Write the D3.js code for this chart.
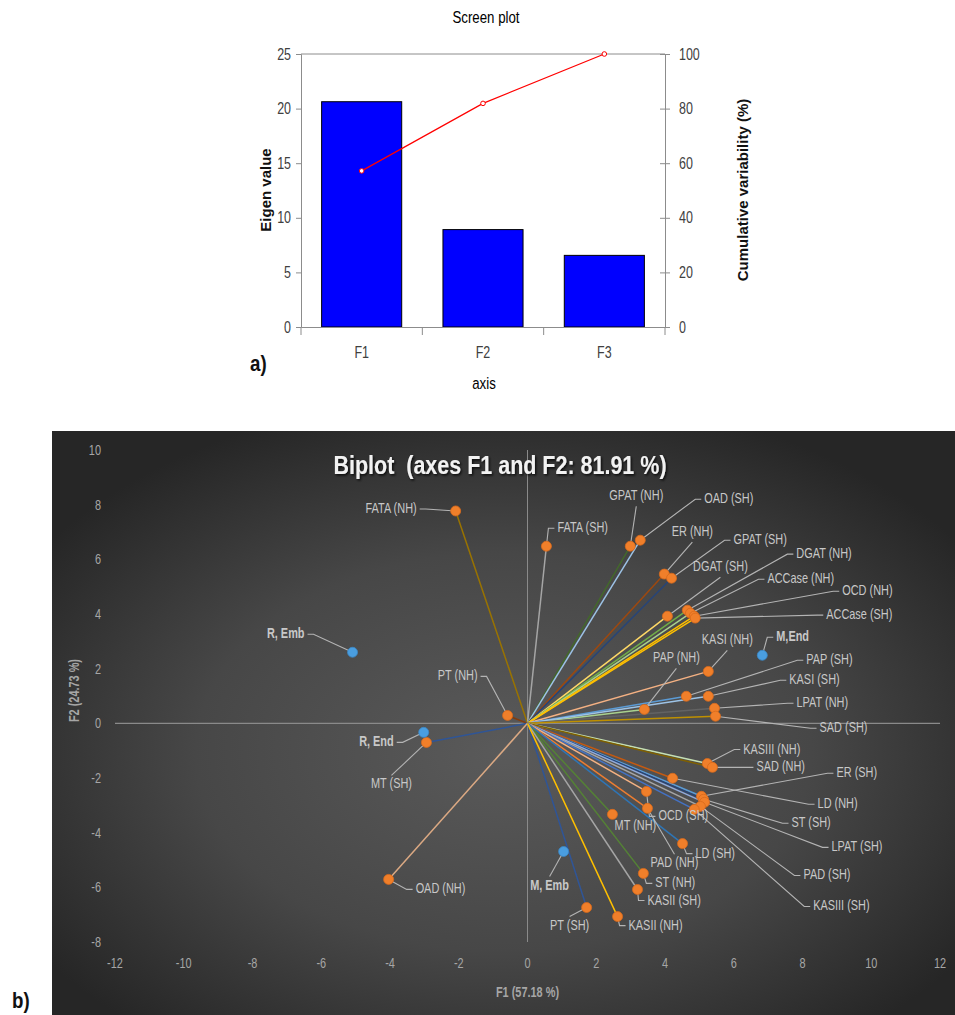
<!DOCTYPE html>
<meta charset="utf-8">
<style>
 body { margin: 0; background: #fff; }
 svg { display: block; }
 text { font-family: "Liberation Sans", Arial, sans-serif; }
</style>
<body>
<svg width="955" height="1015"></svg>
<script src="https://d3js.org/d3.v7.min.js"></script>
<script>

 // ---- scree plot data ----
 var factors = ["F1", "F2", "F3"];
 var eigenValues = [20.63, 8.92, 6.56];
 var cumulative = [57.18, 81.91, 100];
 var eigenTicks = [0, 5, 10, 15, 20, 25];
 var cumTicks = [0, 20, 40, 60, 80, 100];

 // ---- biplot data ----
 var varNames = ["FATA (NH)", "FATA (SH)", "GPAT (NH)", "OAD (SH)", "ER (NH)", "GPAT (SH)",
                 "DGAT (SH)", "DGAT (NH)", "ACCase (NH)", "OCD (NH)", "ACCase (SH)",
                 "KASI (NH)", "PAP (NH)", "PAP (SH)", "KASI (SH)", "LPAT (NH)", "SAD (SH)",
                 "PT (NH)", "MT (SH)", "OAD (NH)", "KASIII (NH)", "SAD (NH)", "ER (SH)",
                 "LD (NH)", "ST (SH)", "LPAT (SH)", "PAD (SH)", "KASIII (SH)", "OCD (SH)",
                 "MT (NH)", "PAD (NH)", "LD (SH)", "ST (NH)", "KASII (SH)", "PT (SH)", "KASII (NH)"];
 var varF1 = [-2.09, 0.55, 2.99, 3.28, 3.98, 4.19, 4.07, 4.65, 4.74, 4.85, 4.88,
              5.26, 3.40, 4.62, 5.26, 5.44, 5.47, -0.58, -2.94, -4.04, 5.23, 5.38, 5.06,
              4.22, 5.12, 5.15, 5.03, 4.85, 3.46, 2.47, 3.49, 4.51, 3.37, 3.20, 1.72, 2.62];
 var varF2 = [7.77, 6.48, 6.48, 6.70, 5.46, 5.31, 3.92, 4.14, 4.03, 3.92, 3.85,
              1.90, 0.51, 0.99, 0.99, 0.55, 0.26, 0.29, -0.70, -5.71, -1.47, -1.61, -2.67,
              -2.01, -2.78, -2.89, -3.04, -3.15, -2.49, -3.33, -3.11, -4.40, -5.49, -6.08, -6.74, -7.07];

 var obsNames = ["R, Emb", "M,End", "R, End", "M, Emb"];
 var obsF1 = [-5.09, 6.83, -3.02, 1.05];
 var obsF2 = [2.60, 2.49, -0.33, -4.69];

 var xTicks = [-12, -10, -8, -6, -4, -2, 0, 2, 4, 6, 8, 10, 12];
 var yTicks = [-8, -6, -4, -2, 0, 2, 4, 6, 8, 10];

 // line colour for each variable vector
 var lineColors = ["#997300", "#a5a5a5", "#43682b", "#9dc3e6", "#9e480e", "#264478",
                   "#ffd966", "#70ad47", "#a9d18e", "#ffc000", "#ffc000",
                   "#f4b183", "#a9d18e", "#5b9bd5", "#9dc3e6", "#636363", "#bf9000",
                   "#843c0c", "#2f5597", "#dba983", "#c5e0b4", "#7f6000", "#5b9bd5",
                   "#c55a11", "#264478", "#8faadc", "#a5a5a5", "#4472c4", "#f4b183",
                   "#548235", "#ed7d31", "#2e75b6", "#548235", "#a5a5a5", "#2f5597", "#ffc000"];

 // label placement: offset of the text from its point in px, text-anchor
 var varLabelPos = [[-39, 2, "end"], [11, -14, "start"], [6, -46, "middle"], [64, -37, "start"],
                    [28, -38, "middle"], [62, -34, "start"], [53, -45, "middle"], [109, -52, "start"],
                    [77, -30, "start"], [148, -21, "start"], [131, 1, "start"],
                    [19, -27, "middle"], [32, -47, "middle"], [120, -32, "start"], [81, -12, "start"],
                    [82, -1, "start"], [104, 16, "start"], [-30, -35, "end"], [-35, 46, "middle"],
                    [27, 14, "start"], [36, -10, "start"], [44, 4, "start"], [135, -19, "start"],
                    [145, 30, "start"], [88, 28, "start"], [127, 49, "start"], [103, 73, "start"],
                    [119, 101, "start"], [12, 29, "start"], [23, 16, "none"], [27, 59, "middle"],
                    [13, 14, "start"], [12, 14, "start"], [10, 15, "start"], [-17, 22, "middle"],
                    [11, 13, "start"]];
 var obsLabelPos = [[-48, -14, "end"], [14, -14, "start"], [-30, 14, "end"], [-14, 38, "middle"]];

 var svg = d3.select("svg");
 var squeeze = 0.78; // horizontal squeeze to mimic the narrow chart font

 // text drawn at (x,y), squeezed horizontally around its anchor point
 function ntext(g, x, y, str, size, anchor, k) {
     return g.append("text")
        .attr("transform", "translate(" + x + "," + y + ") scale(" + (k || squeeze) + ",1)")
        .attr("text-anchor", anchor || "start")
        .attr("font-size", size)
        .text(str);
 }

 // ================= a) scree plot =================
 var sx = d3.scaleBand().domain(factors).range([301, 665]).paddingInner(0.34).paddingOuter(0.17);
 var sy = d3.scaleLinear().domain([0, 25]).range([327, 54]);
 var sy2 = d3.scaleLinear().domain([0, 100]).range([327, 54]);
 var axisCol = "#8c8c8c";

 var scree = svg.append("g");
 scree.append("line").attr("x1", 301).attr("x2", 665).attr("y1", sy(25)).attr("y2", sy(25)).attr("stroke", axisCol);

 scree.selectAll("rect.bar").data(eigenValues).enter().append("rect")
    .attr("class", "bar")
    .attr("x", function(d, i) { return sx(factors[i]); })
    .attr("width", sx.bandwidth())
    .attr("y", function(d) { return sy(d); })
    .attr("height", function(d) { return sy(0) - sy(d); })
    .attr("fill", "#0000ff").attr("stroke", "#000").attr("stroke-width", 1);

 var leftAx = scree.append("g").attr("transform", "translate(301,0)")
    .call(d3.axisLeft(sy).tickValues(eigenTicks).tickSize(5).tickPadding(5));
 var rightAx = scree.append("g").attr("transform", "translate(665,0)")
    .call(d3.axisRight(sy2).tickValues(cumTicks).tickSize(5).tickPadding(9));
 rightAx.selectAll(".tick line").attr("x1", -5);
 var bottomAx = scree.append("g").attr("transform", "translate(0,327)")
    .call(d3.axisBottom(sx).tickSize(0).tickPadding(20));
 [leftAx, rightAx, bottomAx].forEach(function(a) {
     a.selectAll("path, line").attr("stroke", axisCol);
     a.selectAll("text").attr("font-size", 16).attr("fill", "#404040")
      .attr("font-family", "Liberation Sans")
      .each(function() {
          var t = d3.select(this);
          t.attr("transform", (t.attr("transform") || "") + " scale(" + squeeze + ",1)")
           .attr("x", +t.attr("x") / squeeze);
      });
 });
 // category boundary ticks
 var edges = [sx.range()[0]].concat(factors.map(function(f) { return sx(f) + sx.bandwidth() + sx.step() * 0.17; }));
 scree.selectAll("line.edge").data(edges).enter().append("line")
    .attr("x1", function(d) { return d; }).attr("x2", function(d) { return d; })
    .attr("y1", 327).attr("y2", 335).attr("stroke", axisCol);

 var line = d3.line()
    .x(function(d, i) { return sx(factors[i]) + sx.bandwidth() / 2; })
    .y(function(d) { return sy2(d); });
 scree.append("path").datum(cumulative).attr("d", line)
    .attr("fill", "none").attr("stroke", "#ff0000").attr("stroke-width", 1.2);
 scree.selectAll("circle.cum").data(cumulative).enter().append("circle")
    .attr("cx", function(d, i) { return sx(factors[i]) + sx.bandwidth() / 2; })
    .attr("cy", function(d) { return sy2(d); })
    .attr("r", 2.3).attr("fill", "#fff").attr("stroke", "#ff0000");

 ntext(scree, 486, 23, "Screen plot", 17, "middle").attr("fill", "#000");
 scree.append("text").attr("transform", "translate(271,190) rotate(-90)")
    .attr("text-anchor", "middle").attr("font-family", "DejaVu Sans").attr("font-weight", "bold")
    .attr("font-size", 15).attr("fill", "#111").text("Eigen value");
 scree.append("text").attr("transform", "translate(748,190) rotate(-90)")
    .attr("text-anchor", "middle").attr("font-family", "DejaVu Sans").attr("font-weight", "bold")
    .attr("font-size", 15).attr("fill", "#111").text("Cumulative variability (%)");
 ntext(scree, 484, 389, "axis", 17, "middle").attr("fill", "#000");
 ntext(scree, 250, 371, "a)", 22, "start", 0.85).attr("font-weight", "bold").attr("fill", "#111");

 // ================= b) biplot =================
 var defs = svg.append("defs");
 var grad = defs.append("radialGradient").attr("id", "bg")
    .attr("cx", "0.5").attr("cy", "0.55").attr("r", "0.62");
 grad.append("stop").attr("offset", "0").attr("stop-color", "#5a5a5a");
 grad.append("stop").attr("offset", "0.55").attr("stop-color", "#474747");
 grad.append("stop").attr("offset", "1").attr("stop-color", "#262626");
 var sh = defs.append("filter").attr("id", "shadow").attr("x", "-10%").attr("y", "-30%").attr("width", "120%").attr("height", "160%");
 sh.append("feDropShadow").attr("dx", 1.5).attr("dy", 1.5).attr("stdDeviation", 1.2).attr("flood-color", "#000").attr("flood-opacity", 0.8);

 svg.append("rect").attr("x", 52).attr("y", 431).attr("width", 903).attr("height", 584).attr("fill", "url(#bg)");
 ntext(svg, 12, 1008, "b)", 22, "start", 0.85).attr("font-weight", "bold").attr("fill", "#111");

 var bx = d3.scaleLinear().domain([-12, 12]).range([115, 940]);
 var by = d3.scaleLinear().domain([-8, 10]).range([942, 450]);
 var bp = svg.append("g");
 var lineCol = "#8a8a8a";

 bp.append("line").attr("x1", bx(-12)).attr("x2", bx(12)).attr("y1", by(0)).attr("y2", by(0))
   .attr("stroke", lineCol).attr("stroke-width", 1.2);
 bp.append("line").attr("x1", bx(0)).attr("x2", bx(0)).attr("y1", by(10)).attr("y2", by(-8))
   .attr("stroke", lineCol).attr("stroke-width", 1);

 xTicks.forEach(function(d) {
     ntext(bp, bx(d), 968, d, 14, "middle").attr("fill", "#a6a6a6");
 });
 yTicks.forEach(function(d) {
     ntext(bp, 101, by(d) + 5, d, 14, "end").attr("fill", "#a6a6a6");
 });
 ntext(bp, bx(0), 997, "F1 (57.18 %)", 14, "middle").attr("font-weight", "bold").attr("fill", "#a6a6a6");
 bp.append("text").attr("transform", "translate(79," + by(1.2) + ") rotate(-90) scale(" + squeeze + ",1)")
   .attr("text-anchor", "middle").attr("font-size", 14).attr("font-weight", "bold").attr("fill", "#a6a6a6").text("F2 (24.73 %)");
 ntext(bp, 500, 474, "Biplot  (axes F1 and F2: 81.91 %)", 25, "middle", 0.86)
   .attr("font-weight", "bold").attr("fill", "#f2f2f2")
   .attr("filter", "url(#shadow)").style("white-space", "pre");

 var vars = varNames.map(function(n, i) {
     return { name: n, x: varF1[i], y: varF2[i], color: lineColors[i], lab: varLabelPos[i], obs: false };
 });
 var obs = obsNames.map(function(n, i) {
     return { name: n, x: obsF1[i], y: obsF2[i], lab: obsLabelPos[i], obs: true };
 });

 // vectors from origin
 bp.selectAll("line.vec").data(vars).enter().append("line")
   .attr("x1", bx(0)).attr("y1", by(0))
   .attr("x2", function(d) { return bx(d.x); }).attr("y2", function(d) { return by(d.y); })
   .attr("stroke", function(d) { return d.color; }).attr("stroke-width", 1.5);

 var all = vars.concat(obs);

 // leader lines
 function leader(d) {
     var px = bx(d.x), py = by(d.y);
     var tx = px + d.lab[0], ty = py + d.lab[1] - 4;
     var a = d.lab[2];
     if (a === "none") return null;
     if (a === "start") return [[px, py], [tx - 9, ty], [tx - 3, ty]];
     if (a === "end") return [[px, py], [tx + 9, ty], [tx + 3, ty]];
     var ey = d.lab[1] < 0 ? ty + 10 : ty - 9;
     return [[px, py], [tx, ey]];
 }
 bp.selectAll("path.leader").data(all.filter(function(d) { return leader(d); })).enter().append("path")
   .attr("d", function(d) { return d3.line()(leader(d)); })
   .attr("fill", "none").attr("stroke", "#b4b4b4").attr("stroke-width", 1.1);

 // points
 bp.selectAll("circle.pt").data(all).enter().append("circle")
   .attr("cx", function(d) { return bx(d.x); }).attr("cy", function(d) { return by(d.y); })
   .attr("r", 5).attr("fill", function(d) { return d.obs ? "#4a9ee0" : "#f07f2a"; })
   .attr("stroke", function(d) { return d.obs ? "#3b86c4" : "#d8691c"; }).attr("stroke-width", 0.8);

 // labels
 all.forEach(function(d) {
     ntext(bp, bx(d.x) + d.lab[0], by(d.y) + d.lab[1], d.name, 14,
           d.lab[2] === "none" ? "middle" : d.lab[2])
        .attr("font-weight", d.obs ? "bold" : "normal")
        .attr("fill", "#c8c8c8");
 });

</script>
</body>
